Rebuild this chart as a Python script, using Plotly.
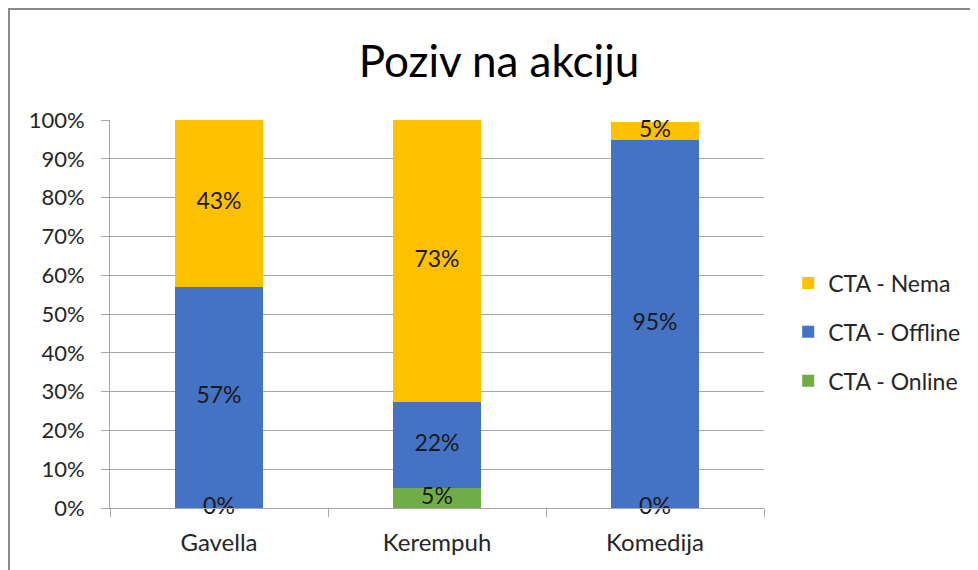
import plotly.graph_objects as go

categories = ["Gavella", "Kerempuh", "Komedija"]
cta_online = [0.0, 5.2, 0.0]
cta_offline = [57.0, 22.1, 94.8]
cta_nema = [43.0, 72.7, 4.7]
y_ticks = [0, 10, 20, 30, 40, 50, 60, 70, 80, 90, 100]

FONT = "Lato"
series = [
    ("CTA - Online", cta_online, "#70AD47", 3),
    ("CTA - Offline", cta_offline, "#4472C4", 2),
    ("CTA - Nema", cta_nema, "#FFC000", 1),
]

fig = go.Figure()
for name, vals, col, rank in series:
    fig.add_trace(go.Bar(
        x=categories, y=vals, name=name, marker=dict(color=col, line=dict(width=0)),
        width=0.4, legendgroup=name, legendrank=rank,
    ))

# data labels at segment midpoints
base = [0.0] * len(categories)
for name, vals, col, rank in series:
    mids = [b + v / 2 for b, v in zip(base, vals)]
    fig.add_trace(go.Scatter(
        x=categories, y=mids, mode="text",
        text=[f"{round(v):.0f}%" for v in vals],
        textposition="middle center",
        textfont=dict(family=FONT, size=23, color="#1a1a1a"),
        showlegend=False, hoverinfo="skip", cliponaxis=False,
    ))
    base = [b + v for b, v in zip(base, vals)]

W, H = 970, 562
ML, MR, MT, MB = 102, 214, 112, 62
PW, PH = W - ML - MR, H - MT - MB

fig.update_layout(
    width=W, height=H,
    paper_bgcolor="white", plot_bgcolor="white",
    barmode="stack",
    margin=dict(l=ML, r=MR, t=MT, b=MB),
    title=dict(text="Poziv na akciju", x=(ML + PW / 2 + 62) / W, xanchor="center",
               y=1 - 54 / H, yanchor="middle",
               font=dict(family=FONT, size=44, color="#000000")),
    font=dict(family=FONT, size=22, color="#262626"),
    legend=dict(traceorder="grouped", tracegroupgap=16, x=1.037, xanchor="left",
                y=0.4536, yanchor="middle", font=dict(family=FONT, size=23, color="#262626"),
                itemwidth=30),
    showlegend=True,
    shapes=[
        dict(type="line", xref="paper", yref="paper", x0=-ML / PW, x1=(PW + MR) / PW,
             y0=(PH + MT - 1) / PH, y1=(PH + MT - 1) / PH, line=dict(color="#8a8a8a", width=2)),
        dict(type="line", xref="paper", yref="paper", x0=(-ML + 1) / PW, x1=(-ML + 1) / PW,
             y0=(PH + MT) / PH, y1=-MB / PH, line=dict(color="#8a8a8a", width=2)),
    ],
)
fig.update_yaxes(
    range=[0, 100], tickvals=y_ticks, ticktext=[f"{t}%" for t in y_ticks],
    showgrid=True, gridcolor="#a6a6a6", gridwidth=1,
    showline=True, linecolor="#a6a6a6", linewidth=1,
    ticks="outside", ticklen=8, tickcolor="#a6a6a6",
    ticklabelstandoff=12, zeroline=False,
    tickfont=dict(family=FONT, size=22, color="#262626"),
)
fig.update_xaxes(
    showline=True, linecolor="#a6a6a6", linewidth=1,
    ticks="outside", ticklen=8, tickcolor="#a6a6a6", tickson="boundaries",
    ticklabelstandoff=13,
    tickfont=dict(family=FONT, size=24, color="#262626"),
)

fig.write_html("out.html")
